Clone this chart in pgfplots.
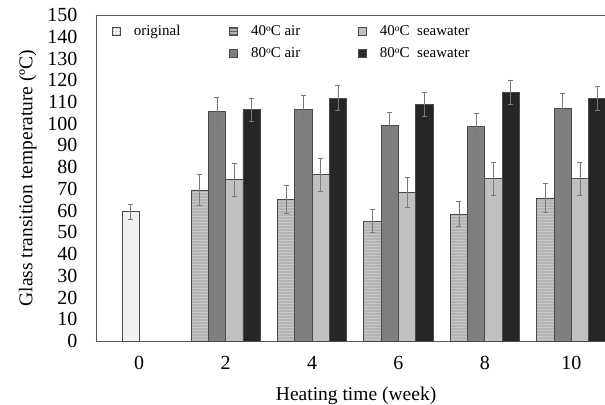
\documentclass[border=0pt]{standalone}
\usepackage{pgfplots}
\pgfplotsset{compat=1.18}
\usepackage{fontspec}
\setmainfont{Liberation Serif}
\usetikzlibrary{patterns}
\definecolor{corig}{HTML}{F0F0F0}
\definecolor{cfourair}{HTML}{B4B4B4}
\definecolor{ceightair}{HTML}{7F7F7F}
\definecolor{cfoursea}{HTML}{C0C0C0}
\definecolor{ceightsea}{HTML}{262626}
\definecolor{cedge}{HTML}{4A4A4A}
\definecolor{cerr}{HTML}{7A7A7A}
\definecolor{caxis}{HTML}{595959}
\newcommand{\dg}{\raisebox{0.45ex}{\fontsize{9.5bp}{10bp}\selectfont o}}
\begin{document}
\begin{tikzpicture}
\useasboundingbox (-96bp,-64bp) rectangle (509bp,341bp);
\begin{axis}[
  at={(0,0)}, anchor=south west,
  scale only axis, width=509bp, height=326bp,
  xmin=-0.5, xmax=5.39, ymin=0, ymax=150,
  ytick={0,10,...,150}, xtick={0,1,2,3,4,5}, xticklabels={0,2,4,6,8,10},
  major tick length=0pt,
  axis x line*=bottom, axis y line*=left,
  axis line style={color=caxis, line width=0.9bp},
  /pgf/number format/assume math mode=true,
  ticklabel style={font=\fontsize{20bp}{21bp}\selectfont},
  yticklabel style={xshift=-15bp},
  xticklabel style={yshift=-12bp},
  xlabel={Heating time (week)},
  ylabel={Glass transition temperature (ºC)},
  label style={font=\fontsize{19.5bp}{22bp}\selectfont},
  xlabel style={at={(axis description cs:0.511,-0.168)}, anchor=center},
  ylabel style={at={(axis description cs:-0.134,0.5)}, anchor=center, rotate=0},
  ybar, bar width=0.2,
  every axis plot/.append style={draw=cedge, line width=0.8bp,
    error bars/error bar style={cerr, line width=0.8bp},
    error bars/error mark options={rotate=90, cerr, mark size=2.5bp, line width=0.8bp}},
  legend columns=3,
  legend style={draw=none, fill=none, at={(0.0255,0.979)}, anchor=north west,
    font=\fontsize{15bp}{17bp}\selectfont, row sep=8bp,
    nodes={inner sep=0pt, text height=11bp, text depth=3bp},
    /tikz/column 1/.style={column sep=13bp},
    /tikz/column 2/.style={column sep=49bp},
    /tikz/column 3/.style={column sep=13bp},
    /tikz/column 4/.style={column sep=58bp},
    /tikz/column 5/.style={column sep=13bp}},
  legend cell align=left,
  legend image code/.code={\draw[#1] (0bp,-4bp) rectangle (8bp,4bp);},
  after end axis/.code={\draw[caxis, line width=0.9bp] (rel axis cs:0,1) -- (rel axis cs:1,1);},
]
% original
\addplot[forget plot, fill=corig, bar shift=-0.1,
  error bars/.cd, y dir=both, y explicit]
  coordinates {(0,59.5) +- (0,3.5)};
% 40C air
\addplot[forget plot, fill=cfourair, postaction={pattern=horizontal lines, pattern color=black!22}, bar shift=-0.3,
  error bars/.cd, y dir=both, y explicit]
  coordinates {(1,69.5) +- (0,7) (2,65.3) +- (0,6.5) (3,55.2) +- (0,5.4) (4,58.4) +- (0,5.8) (5,65.8) +- (0,6.7)};
% 80C air
\addplot[forget plot, fill=ceightair, bar shift=-0.1,
  error bars/.cd, y dir=both, y explicit]
  coordinates {(1,105.5) +- (0,6.4) (2,106.6) +- (0,6.4) (3,99.3) +- (0,6) (4,98.9) +- (0,6) (5,107.2) +- (0,6.5)};
% 40C seawater
\addplot[forget plot, fill=cfoursea, bar shift=0.1,
  error bars/.cd, y dir=both, y explicit]
  coordinates {(1,74.2) +- (0,7.5) (2,76.5) +- (0,7.7) (3,68.4) +- (0,7) (4,74.6) +- (0,7.5) (5,74.6) +- (0,7.6)};
% 80C seawater
\addplot[forget plot, fill=ceightsea, bar shift=0.3,
  error bars/.cd, y dir=both, y explicit]
  coordinates {(1,106.4) +- (0,5.4) (2,111.7) +- (0,5.7) (3,108.7) +- (0,5.5) (4,114.4) +- (0,5.7) (5,111.5) +- (0,5.5)};
% legend
\addlegendimage{fill=corig, draw=cedge, line width=0.6bp, postaction={pattern=dots, pattern color=black!40}}
\addlegendentry{original}
\addlegendimage{fill=cfourair, draw=cedge, line width=0.6bp, postaction={pattern=horizontal lines, pattern color=black!60}}
\addlegendentry{40\dg C air}
\addlegendimage{fill=cfoursea, draw=cedge, line width=0.6bp}
\addlegendentry{40\dg C\ \ seawater}
\addlegendimage{empty legend}
\addlegendentry{}
\addlegendimage{fill=ceightair, draw=cedge, line width=0.6bp}
\addlegendentry{80\dg C air}
\addlegendimage{fill=ceightsea, draw=cedge, line width=0.6bp, postaction={pattern=crosshatch dots, pattern color=black!70}}
\addlegendentry{80\dg C\ \ seawater}
\end{axis}
\end{tikzpicture}
\end{document}
